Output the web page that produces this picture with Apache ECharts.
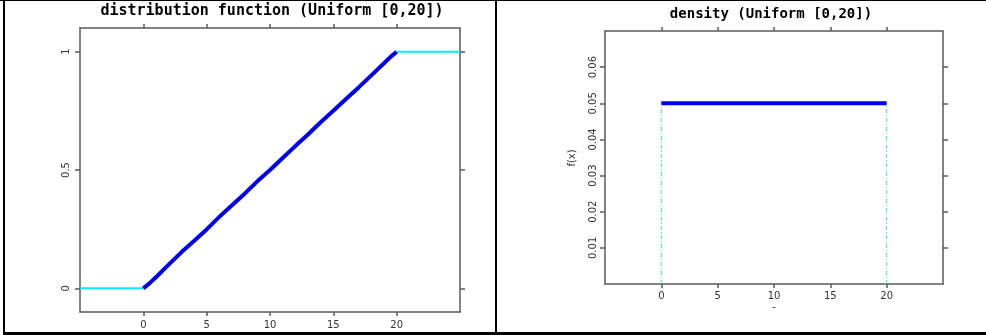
<!DOCTYPE html>
<html>
<head>
<meta charset="utf-8">
<script src="https://cdn.jsdelivr.net/npm/echarts@6/dist/echarts.min.js"></script>
<style>html,body{margin:0;padding:0;background:#fff}#c{width:986px;height:335px}</style>
</head>
<body>
<div id="c"></div>
<script>
// Left panel: empirical distribution function of Uniform[0,20] sample
const cdfX = [0, 0.5, 1, 2, 3, 4, 5, 6, 7, 8, 9, 10, 11, 12, 13, 14, 15, 16, 17, 18, 19, 19.5, 20];
const cdfY = [0, 0.022, 0.047, 0.1, 0.152, 0.2, 0.249, 0.302, 0.351, 0.4, 0.452, 0.5, 0.551, 0.601, 0.65, 0.702, 0.75, 0.8, 0.849, 0.9, 0.951, 0.977, 1.0];
const leftTailX = [-5, 0];
const leftTailY = [0, 0];
const rightTailX = [20, 25];
const rightTailY = [1, 1];
const cdfXTicks = [0, 5, 10, 15, 20];
const cdfYTicks = [0, 0.5, 1];

// Right panel: density of Uniform[0,20]
const densX = [0, 20];
const densY = [0.05, 0.05];
const densGuideX = [0, 20];
const densXTicks = [0, 5, 10, 15, 20];
const densYTicks = [0.01, 0.02, 0.03, 0.04, 0.05, 0.06];

const titles = ['distribution function (Uniform [0,20])', 'density (Uniform [0,20])'];

const zip = (a, b) => a.map((v, i) => [v, b[i]]);
const axisGray = '#5a5a5a';
const lblFont = { fontFamily: 'DejaVu Sans', fontSize: 10, color: '#333' };

function xAx(gi, pos, ticks, labels, margin) {
  return {
    type: 'value', gridIndex: gi, position: pos, min: -5, max: 25,
    axisLine: { show: true, onZero: false, lineStyle: { color: axisGray, width: 1.5 } },
    axisTick: { show: true, length: 4, customValues: ticks, lineStyle: { color: axisGray, width: 1.5 } },
    axisLabel: labels ? Object.assign({ customValues: ticks, margin: margin, formatter: v => String(v) }, lblFont) : { show: false },
    splitLine: { show: false }
  };
}
function yAx(gi, pos, min, max, ticks, labels, margin) {
  return {
    type: 'value', gridIndex: gi, position: pos, min: min, max: max,
    axisLine: { show: true, onZero: false, lineStyle: { color: axisGray, width: 1.5 } },
    axisTick: { show: true, length: 5, customValues: ticks, lineStyle: { color: axisGray, width: 1.5 } },
    axisLabel: labels ? Object.assign({ customValues: ticks, rotate: 90, margin: margin, formatter: v => String(v) }, lblFont) : { show: false },
    splitLine: { show: false }
  };
}

const chart = echarts.init(document.getElementById('c'), null, { renderer: 'canvas' });
chart.setOption({
  animation: false,
  backgroundColor: '#fff',
  grid: [
    { left: 80, top: 28, width: 380, height: 284 },
    { left: 605, top: 31, width: 338, height: 253 }
  ],
  xAxis: [
    xAx(0, 'bottom', cdfXTicks, true, 8),
    xAx(0, 'top', cdfXTicks, false),
    xAx(1, 'bottom', densXTicks, true, 7),
    xAx(1, 'top', densXTicks, false)
  ],
  yAxis: [
    yAx(0, 'left', -0.1, 1.1, cdfYTicks, true, 9),
    yAx(0, 'right', -0.1, 1.1, cdfYTicks, false),
    yAx(1, 'left', 0, 0.07, densYTicks, true, 7),
    yAx(1, 'right', 0, 0.07, densYTicks, false)
  ],
  series: [
    { type: 'line', xAxisIndex: 0, yAxisIndex: 0, data: zip(leftTailX, leftTailY), symbol: 'none', lineStyle: { color: '#00f0ff', width: 2 } },
    { type: 'line', xAxisIndex: 0, yAxisIndex: 0, data: zip(rightTailX, rightTailY), symbol: 'none', lineStyle: { color: '#00f0ff', width: 2 } },
    { type: 'line', xAxisIndex: 0, yAxisIndex: 0, data: zip(cdfX, cdfY), symbol: 'none', lineStyle: { color: '#0000ee', width: 4 } },
    { type: 'line', xAxisIndex: 2, yAxisIndex: 2, data: [[densGuideX[0], 0], [densGuideX[0], densY[0]]], symbol: 'none', lineStyle: { color: '#33ddee', width: 1, type: [4, 2, 1, 2] } },
    { type: 'line', xAxisIndex: 2, yAxisIndex: 2, data: [[densGuideX[1], 0], [densGuideX[1], densY[1]]], symbol: 'none', lineStyle: { color: '#33ddee', width: 1, type: [4, 2, 1, 2] } },
    { type: 'line', xAxisIndex: 2, yAxisIndex: 2, data: zip(densX, densY), symbol: 'none', lineStyle: { color: '#0000ee', width: 4 } }
  ],
  graphic: [
    { type: 'rect', shape: { x: 0, y: 0, width: 986, height: 1 }, style: { fill: '#000' } },
    { type: 'rect', shape: { x: 3, y: 0, width: 2, height: 335 }, style: { fill: '#000' } },
    { type: 'rect', shape: { x: 495, y: 0, width: 2, height: 335 }, style: { fill: '#000' } },
    { type: 'rect', shape: { x: 3, y: 332, width: 983, height: 3 }, style: { fill: '#000' } },
    { type: 'text', x: 272, y: 11, style: { text: titles[0], align: 'center', verticalAlign: 'middle', font: 'bold 15px "DejaVu Sans Mono"', fill: '#000' } },
    { type: 'text', x: 771, y: 14, style: { text: titles[1], align: 'center', verticalAlign: 'middle', font: 'bold 14px "DejaVu Sans Mono"', fill: '#000' } },
    { type: 'text', x: 572, y: 158, rotation: Math.PI / 2, style: { text: 'f(x)', align: 'center', verticalAlign: 'middle', font: '10px "DejaVu Sans"', fill: '#333' } },
    { type: 'text', x: 774, y: 307, style: { text: '-', align: 'center', verticalAlign: 'middle', font: '10px "DejaVu Sans"', fill: '#333' } }
  ]
});
</script>
</body>
</html>
